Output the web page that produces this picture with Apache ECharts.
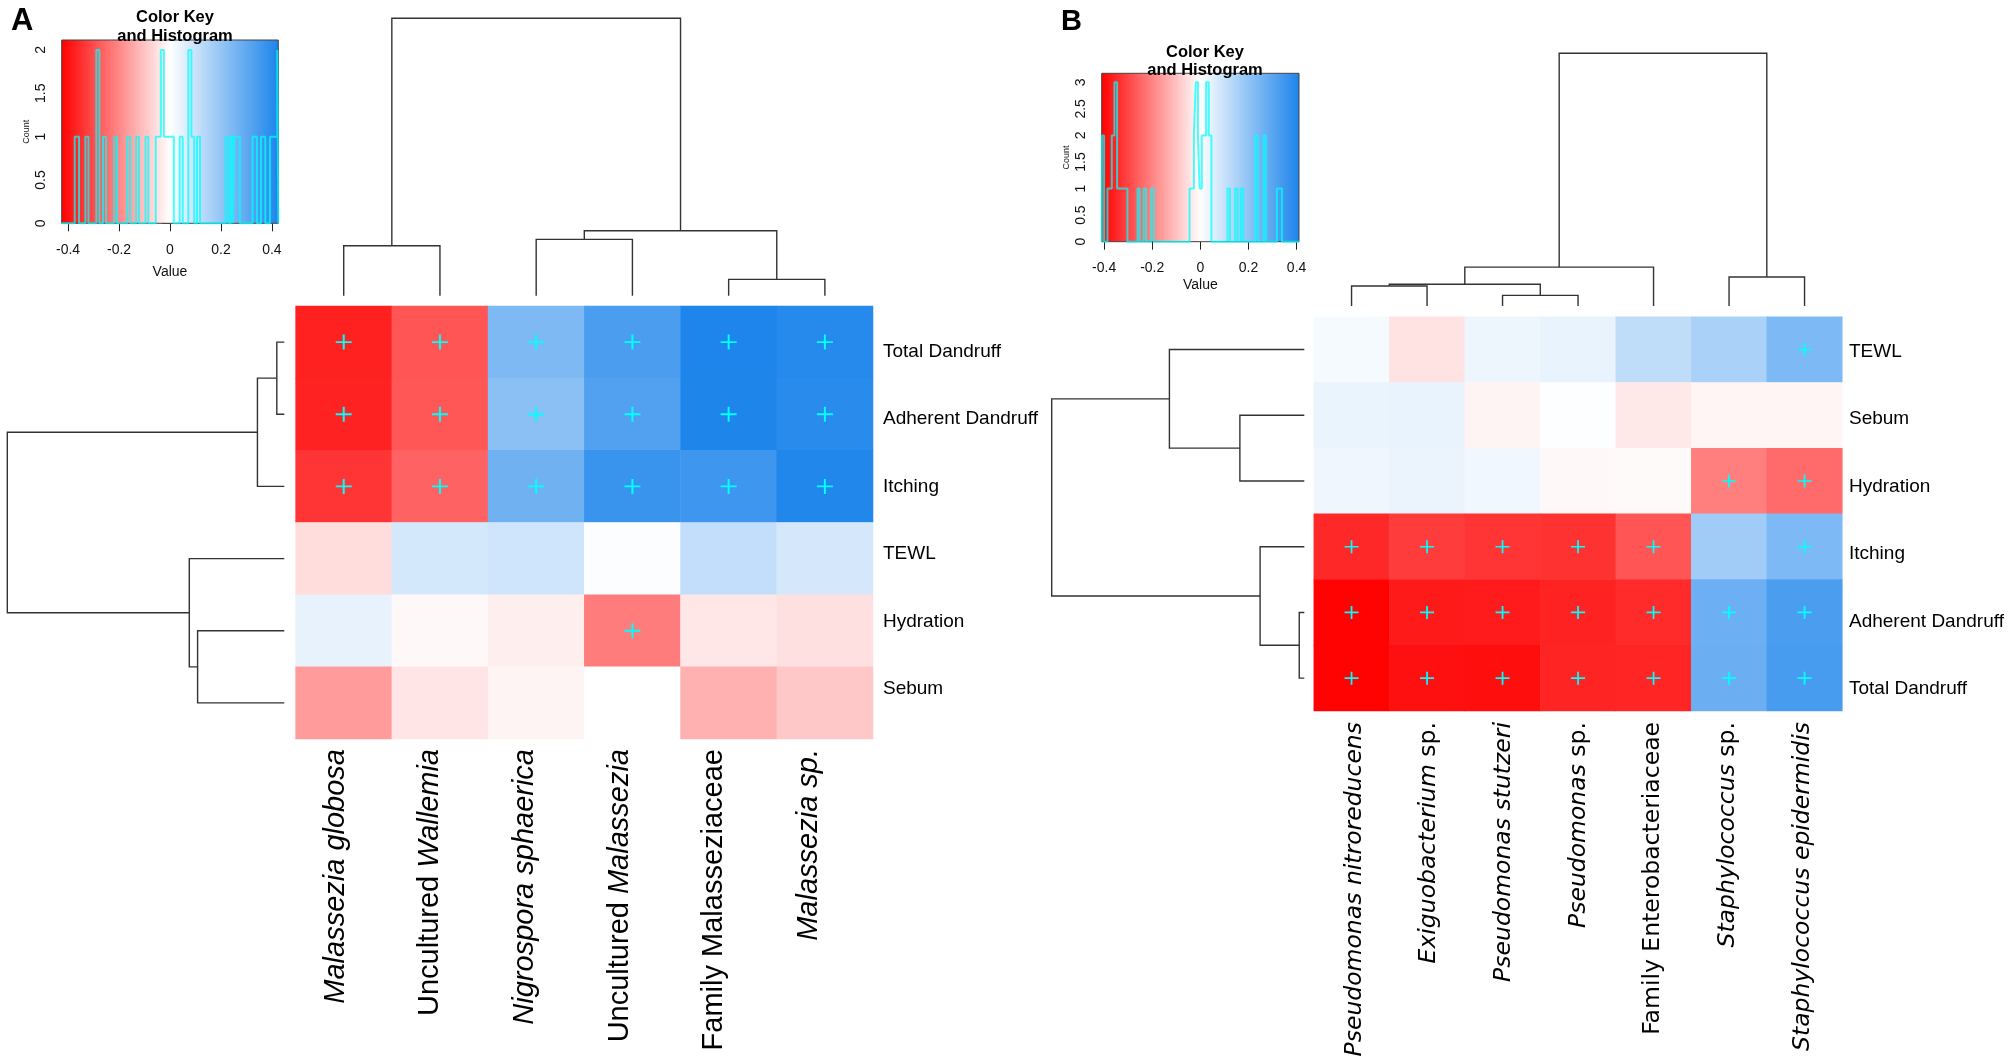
<!DOCTYPE html>
<html>
<head>
<meta charset="utf-8">
<script src="https://cdn.jsdelivr.net/npm/echarts@6/dist/echarts.min.js"></script>
<style>html,body{margin:0;padding:0;background:#fff}#c{width:2008px;height:1063px}</style>
</head>
<body>
<div id="c"></div>
<script>
// ---------------- DATA ----------------
// Panel A (fungi)
const colsA = ["*Malassezia globosa*", "Uncultured *Wallemia*", "*Nigrospora sphaerica*", "Uncultured *Malassezia*", "Family Malasseziaceae", "*Malassezia sp.*"];
const rowsA = ["Total Dandruff", "Adherent Dandruff", "Itching", "TEWL", "Hydration", "Sebum"];
const valuesA = [
  [-0.372, -0.284,  0.242,  0.337,  0.423,  0.406],
  [-0.368, -0.281,  0.218,  0.326,  0.422,  0.400],
  [-0.337, -0.262,  0.268,  0.371,  0.362,  0.416],
  [-0.057,  0.080,  0.091,  0.006,  0.113,  0.078],
  [ 0.045, -0.012, -0.028, -0.218, -0.040, -0.052],
  [-0.166, -0.043, -0.018,  0.000, -0.131, -0.092]
];
const sigA = [[0,0],[1,0],[2,0],[3,0],[4,0],[5,0],[0,1],[1,1],[2,1],[3,1],[4,1],[5,1],[0,2],[1,2],[2,2],[3,2],[4,2],[5,2],[3,4]];
// dendrogram merges: negative = leaf (1-based, display order), positive = earlier merge (1-based); third = height
const colMergesA = [[-1,-2,0.180],[-3,-4,0.203],[-5,-6,0.059],[2,3,0.234],[1,4,1.0]];
const rowMergesA = [[-1,-2,0.027],[1,-3,0.097],[-5,-6,0.313],[-4,3,0.343],[2,4,1.0]];
// histogram of the colour key: [bin start, bin end, count]
const histBinsA = [
  [-0.374,-0.357,1], [-0.332,-0.320,1], [-0.289,-0.277,2], [-0.263,-0.251,1], [-0.219,-0.208,1],
  [-0.168,-0.156,1], [-0.133,-0.122,1], [-0.096,-0.085,1], [-0.056,-0.036,1], [-0.036,-0.024,2],
  [-0.024,0.015,1], [0.038,0.050,1], [0.072,0.084,2], [0.084,0.095,1], [0.106,0.118,1],
  [0.219,0.229,1], [0.239,0.247,1], [0.253,0.274,1], [0.324,0.341,1], [0.357,0.374,1],
  [0.392,0.421,1], [0.421,0.425,2]
];

// Panel B (bacteria)
const colsB = ["*Pseudomonas nitroreducens*", "*Exiguobacterium* sp.", "*Pseudomonas stutzeri*", "*Pseudomonas* sp.", "Family Enterobacteriaceae", "*Staphylococcus* sp.", "*Staphylococcus epidermidis*"];
const rowsB = ["TEWL", "Sebum", "Hydration", "Itching", "Adherent Dandruff", "Total Dandruff"];
const valuesB = [
  [ 0.018, -0.045,  0.032,  0.041,  0.115,  0.153,  0.234],
  [ 0.038,  0.041, -0.018,  0.004, -0.037, -0.016, -0.016],
  [ 0.029,  0.036,  0.027, -0.011, -0.008, -0.206, -0.240],
  [-0.346, -0.314, -0.325, -0.330, -0.273,  0.171,  0.234],
  [-0.405, -0.368, -0.366, -0.356, -0.342,  0.266,  0.325],
  [-0.407, -0.384, -0.388, -0.352, -0.350,  0.268,  0.330]
];
const sigB = [[6,0],[5,2],[6,2],[0,3],[1,3],[2,3],[3,3],[4,3],[6,3],[0,4],[1,4],[2,4],[3,4],[4,4],[5,4],[6,4],[0,5],[1,5],[2,5],[3,5],[4,5],[5,5],[6,5]];
const colMergesB = [[-1,-2,0.079],[-3,-4,0.042],[1,2,0.086],[3,-5,0.154],[-6,-7,0.115],[4,5,1.0]];
const rowMergesB = [[-2,-3,0.255],[-1,1,0.534],[-5,-6,0.020],[-4,3,0.175],[2,4,1.0]];
const histBinsB = [
  [-0.409,-0.400,2], [-0.386,-0.368,1], [-0.368,-0.357,2], [-0.357,-0.346,3], [-0.346,-0.303,1],
  [-0.261,-0.252,1], [-0.236,-0.226,1], [-0.204,-0.193,1], [-0.045,-0.027,1], [-0.027,-0.019,2],
  [-0.019,-0.010,3], [-0.010,-0.003,2], [-0.003,0.006,1], [0.006,0.024,2], [0.024,0.035,3],
  [0.035,0.046,2], [0.113,0.123,1], [0.145,0.155,1], [0.168,0.178,1], [0.228,0.238,2],
  [0.263,0.272,2], [0.318,0.339,1]
];

// Colour key / histogram axes
const keyTicks = [-0.4, -0.2, 0, 0.2, 0.4];
const countTicksA = [0, 0.5, 1, 1.5, 2];
const countTicksB = [0, 0.5, 1, 1.5, 2, 2.5, 3];
const rangeA = 0.425, rangeB = 0.41;
const countMaxA = 2.115, countMaxB = 3.17;

// ---------------- STYLE ----------------
const FONT = '"Liberation Sans", Arial, sans-serif';
const FONT_B = '"DejaVu Sans", sans-serif';
const RED = '#FF0000', WHITE = '#FFFFFF', BLUE = '#1C84EB';
const LINE = '#333333';
const HIST = 'rgba(0,255,255,0.72)';

// ---------------- HELPERS ----------------
function heatData(vals) {
  const out = [];
  vals.forEach((row, r) => row.forEach((v, c) => out.push([c, r, v])));
  return out;
}
function dendro(merges) {
  const pos = [], hgt = [], segs = [];
  const node = ref => ref < 0 ? { p: -ref - 1, h: 0 } : { p: pos[ref - 1], h: hgt[ref - 1] };
  merges.forEach((m, k) => {
    const a = node(m[0]), b = node(m[1]);
    pos[k] = (a.p + b.p) / 2; hgt[k] = m[2];
    segs.push([a.p, a.h, b.p, b.h, m[2]]);
  });
  return segs;
}
// outline of a histogram (R "type = s" style) running along zero between bars
function histOutline(bins, M) {
  const pts = [[-M, 0]];
  let cx = -M, cy = 0;
  bins.forEach(([s, e, c]) => {
    if (s > cx + 1e-9) {
      if (cy !== 0) pts.push([cx, 0]);
      pts.push([s, 0]);
    }
    pts.push([s, c]);
    pts.push([e, c]);
    cx = e; cy = c;
  });
  pts.push([cx, 0]);
  pts.push([M, 0]);
  return pts;
}
function toRich(s) {
  return s.split('*').map((seg, i) => seg ? (i % 2 ? '{i|' + seg + '}' : '{n|' + seg + '}') : '').join('');
}
function richStyle(size, fam) {
  return {
    n: { fontSize: size, fontFamily: fam, color: '#000' },
    i: { fontSize: size, fontFamily: fam, color: '#000', fontStyle: 'italic' }
  };
}
function dendroRender(orient) {
  return function (params, api) {
    const a = api.value(0), ha = api.value(1), b = api.value(2), hb = api.value(3), hm = api.value(4);
    const raw = [[a, ha], [a, hm], [b, hm], [b, hb]];
    const pts = raw.map(p => orient === 'top' ? api.coord([p[0], p[1]]) : api.coord([p[1], p[0]]));
    return { type: 'polyline', shape: { points: pts }, style: { stroke: LINE, lineWidth: 1.4, fill: null } };
  };
}
function keyRender(params, api) {
  const p0 = api.coord([api.value(0), api.value(3)]);
  const p1 = api.coord([api.value(2), api.value(1)]);
  return {
    type: 'rect',
    shape: { x: p0[0], y: p0[1], width: p1[0] - p0[0], height: p1[1] - p0[1] },
    style: {
      fill: new echarts.graphic.LinearGradient(0, 0, 1, 0, [
        { offset: 0, color: RED }, { offset: 0.5, color: WHITE }, { offset: 1, color: BLUE }
      ]),
      stroke: '#444', lineWidth: 1
    }
  };
}
const PLUS = 'path://M7,0 L9,0 L9,16 L7,16 Z M0,7 L16,7 L16,9 L0,9 Z';

// ---------------- OPTION ----------------
const g = (left, top, width, height) => ({ left, top, width, height, containLabel: false, outerBoundsMode: 'none' });
const grids = [
  g(295.6, 306, 577.4, 433),      // 0 heat A
  g(1313.8, 316.7, 528.5, 394.3), // 1 heat B
  g(295.6, 18.3, 577.4, 277.4),   // 2 col dendro A
  g(7.3, 306, 277, 433),          // 3 row dendro A
  g(1313.8, 53.3, 528.5, 252.7),  // 4 col dendro B
  g(1051.7, 316.7, 252.6, 394.3), // 5 row dendro B
  g(61.7, 40, 216.6, 183.3),      // 6 key A
  g(1101.7, 73.3, 197.3, 168.4),  // 7 key B
  g(872, 317.75, 1, 405),         // 8 row labels A
  g(1841, 317.75, 1, 405),        // 9 row labels B
  g(288.1, 739, 568.5, 1),        // 10 col labels A
  g(1317.1, 710, 522.7, 1)        // 11 col labels B
];

function keyX(gi, M, margin, gap) {
  return {
    type: 'value', gridIndex: gi, min: -M, max: M,
    axisLine: { show: false }, splitLine: { show: false },
    axisTick: { show: true, customValues: keyTicks, length: 8, lineStyle: { color: '#222', width: 1 } },
    axisLabel: { customValues: keyTicks, fontSize: 14, margin: margin, color: '#111', fontFamily: FONT },
    name: 'Value', nameLocation: 'middle', nameGap: gap,
    nameTextStyle: { fontSize: 14, color: '#111', fontFamily: FONT }
  };
}
function keyY(gi, max, ticks) {
  return {
    type: 'value', gridIndex: gi, min: 0, max: max,
    axisLine: { show: false }, splitLine: { show: false },
    axisTick: { show: true, customValues: ticks, length: 8, lineStyle: { color: '#222', width: 1 } },
    axisLabel: { customValues: ticks, fontSize: 14, margin: 14, rotate: 90, color: '#111', fontFamily: FONT },
    name: 'Count', nameLocation: 'middle', nameGap: 31, nameRotate: 90,
    nameTextStyle: { fontSize: 9, color: '#111', fontFamily: FONT }
  };
}
const hidden = (type, gi, extra) => Object.assign({ type, gridIndex: gi, show: false }, extra || {});

const option = {
  animation: false,
  backgroundColor: '#fff',
  textStyle: { fontFamily: FONT },
  title: [
    { text: 'A', left: 6, top: 1, textStyle: { fontSize: 31, fontWeight: 'bold', color: '#000', fontFamily: FONT } },
    { text: 'B', left: 1056, top: 2, textStyle: { fontSize: 29, fontWeight: 'bold', color: '#000', fontFamily: FONT } },
    { text: 'Color Key\nand Histogram', left: 170, top: 3, textAlign: 'center',
      textStyle: { fontSize: 16.5, fontWeight: 'bold', lineHeight: 19, color: '#000', fontFamily: FONT } },
    { text: 'Color Key\nand Histogram', left: 1200, top: 38, textAlign: 'center',
      textStyle: { fontSize: 16.5, fontWeight: 'bold', lineHeight: 18, color: '#000', fontFamily: FONT } }
  ],
  grid: grids,
  xAxis: [
    hidden('category', 0, { data: colsA }),
    hidden('category', 1, { data: colsB }),
    hidden('value', 2, { min: -0.5, max: colsA.length - 0.5 }),
    hidden('value', 3, { min: 0, max: 1, inverse: true }),
    hidden('value', 4, { min: -0.5, max: colsB.length - 0.5 }),
    hidden('value', 5, { min: 0, max: 1, inverse: true }),
    keyX(6, rangeA, 20, 42),
    keyX(7, rangeB, 19.5, 36),
    hidden('value', 8),
    hidden('value', 9),
    { type: 'category', gridIndex: 10, data: colsA, position: 'bottom',
      axisLine: { show: false }, axisTick: { show: false }, splitLine: { show: false },
      axisLabel: { interval: 0, rotate: 90, margin: 9, formatter: v => toRich(v), rich: richStyle(29, FONT) } },
    { type: 'category', gridIndex: 11, data: colsB, position: 'bottom',
      axisLine: { show: false }, axisTick: { show: false }, splitLine: { show: false },
      axisLabel: { interval: 0, rotate: 90, margin: 11, formatter: v => toRich(v), rich: richStyle(23.5, FONT_B) } }
  ],
  yAxis: [
    hidden('category', 0, { data: rowsA, inverse: true }),
    hidden('category', 1, { data: rowsB, inverse: true }),
    hidden('value', 2, { min: 0, max: 1 }),
    hidden('value', 3, { min: -0.5, max: rowsA.length - 0.5, inverse: true }),
    hidden('value', 4, { min: 0, max: 1 }),
    hidden('value', 5, { min: -0.5, max: rowsB.length - 0.5, inverse: true }),
    keyY(6, countMaxA, countTicksA),
    keyY(7, countMaxB, countTicksB),
    { type: 'category', gridIndex: 8, data: rowsA, inverse: true, position: 'right',
      axisLine: { show: false }, axisTick: { show: false }, splitLine: { show: false },
      axisLabel: { interval: 0, fontSize: 19, margin: 10, color: '#000', fontFamily: FONT } },
    { type: 'category', gridIndex: 9, data: rowsB, inverse: true, position: 'right',
      axisLine: { show: false }, axisTick: { show: false }, splitLine: { show: false },
      axisLabel: { interval: 0, fontSize: 19, margin: 7, color: '#000', fontFamily: FONT } },
    hidden('value', 10),
    hidden('value', 11)
  ],
  visualMap: [
    { type: 'continuous', show: false, seriesIndex: 0, dimension: 2, min: -rangeA, max: rangeA, inRange: { color: [RED, WHITE, BLUE] } },
    { type: 'continuous', show: false, seriesIndex: 1, dimension: 2, min: -rangeB, max: rangeB, inRange: { color: [RED, WHITE, BLUE] } }
  ],
  series: [
    { type: 'heatmap', xAxisIndex: 0, yAxisIndex: 0, data: heatData(valuesA), itemStyle: { borderWidth: 0 }, progressive: 0 },
    { type: 'heatmap', xAxisIndex: 1, yAxisIndex: 1, data: heatData(valuesB), itemStyle: { borderWidth: 0 }, progressive: 0 },
    { type: 'scatter', xAxisIndex: 0, yAxisIndex: 0, data: sigA, symbol: PLUS, symbolSize: [16, 15], itemStyle: { color: '#00FFFF', opacity: 1 }, z: 5 },
    { type: 'scatter', xAxisIndex: 1, yAxisIndex: 1, data: sigB, symbol: PLUS, symbolSize: [14, 13], itemStyle: { color: '#00FFFF', opacity: 1 }, z: 5 },
    { type: 'custom', xAxisIndex: 2, yAxisIndex: 2, data: dendro(colMergesA), renderItem: dendroRender('top'), clip: false },
    { type: 'custom', xAxisIndex: 3, yAxisIndex: 3, data: dendro(rowMergesA), renderItem: dendroRender('left'), clip: false },
    { type: 'custom', xAxisIndex: 4, yAxisIndex: 4, data: dendro(colMergesB), renderItem: dendroRender('top'), clip: false },
    { type: 'custom', xAxisIndex: 5, yAxisIndex: 5, data: dendro(rowMergesB), renderItem: dendroRender('left'), clip: false },
    { type: 'custom', xAxisIndex: 6, yAxisIndex: 6, data: [[-rangeA, 0, rangeA, countMaxA]], renderItem: keyRender, clip: false, z: 1 },
    { type: 'line', xAxisIndex: 6, yAxisIndex: 6, data: histOutline(histBinsA, rangeA), symbol: 'none',
      lineStyle: { color: HIST, width: 2 }, clip: false, z: 3 },
    { type: 'custom', xAxisIndex: 7, yAxisIndex: 7, data: [[-rangeB, 0, rangeB, countMaxB]], renderItem: keyRender, clip: false, z: 1 },
    { type: 'line', xAxisIndex: 7, yAxisIndex: 7, data: histOutline(histBinsB, rangeB), symbol: 'none',
      lineStyle: { color: HIST, width: 2 }, clip: false, z: 3 }
  ]
};

const chart = echarts.init(document.getElementById('c'), null, { renderer: 'canvas', width: 2008, height: 1063 });
chart.setOption(option);
</script>
</body>
</html>
